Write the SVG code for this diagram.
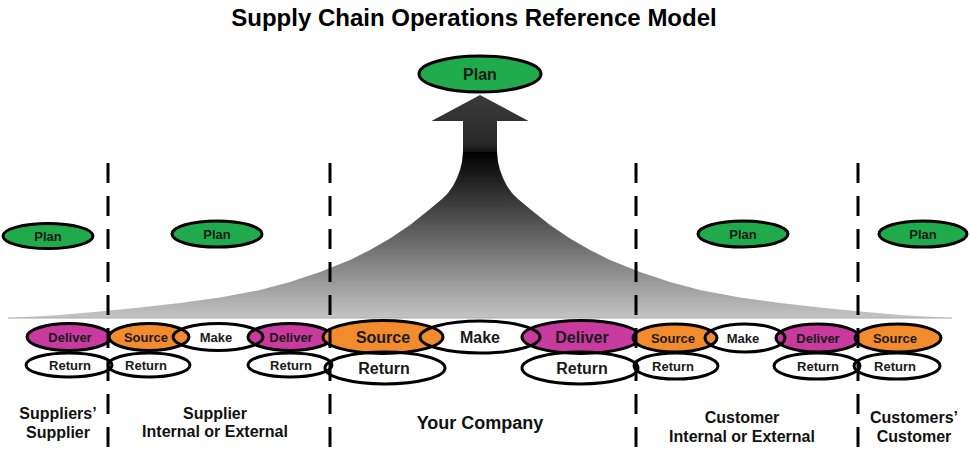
<svg xmlns="http://www.w3.org/2000/svg" width="970" height="454" viewBox="0 0 970 454">
<defs>
<linearGradient id="fanGrad" gradientUnits="userSpaceOnUse" x1="0" y1="152" x2="0" y2="318">
<stop offset="0" stop-color="#000000"/>
<stop offset="1" stop-color="#c4c4c4"/>
</linearGradient>
<linearGradient id="arrowGrad" gradientUnits="userSpaceOnUse" x1="0" y1="95" x2="0" y2="152">
<stop offset="0" stop-color="#3a3a3a"/>
<stop offset="0.85" stop-color="#2a2a2a"/>
<stop offset="1" stop-color="#111111"/>
</linearGradient>
</defs>
<style>
.title{font-family:"Liberation Sans",Arial,sans-serif;font-weight:bold;font-size:24px;fill:#000;text-anchor:middle}
.lbl{font-family:"Liberation Sans",Arial,sans-serif;font-weight:bold;fill:#1a1a1a;text-anchor:middle}
.s{font-size:13px}
.b{font-size:16px}
.zone{font-family:"Liberation Sans",Arial,sans-serif;font-weight:bold;font-size:16px;fill:#111;text-anchor:middle}
.e{stroke:#000;stroke-width:3}
.plan{fill:#1fab4c}
.src{fill:#f28a2e}
.del{fill:#c93a9e}
.none{fill:none}
.sep{stroke:#000;stroke-width:3;stroke-dasharray:20 13;fill:none}
</style>
<text class="title" x="474" y="26">Supply Chain Operations Reference Model</text>

<g id="flow">
<path d="M463,152 L497,152 L498,162 L500,170 L503,178 L507,186 L512,193 L518,199 L524,204 L530,209 L550,225 L570,238.5 L590,250 L610,260 L640,272 L670,282 L700,290 L740,297.5 L780,303 L820,307.5 L860,311.5 L900,315 L952,318 L8,318 L60,315 L100,311.5 L140,307.5 L180,303 L220,297.5 L260,290 L290,282 L320,272 L350,260 L370,250 L390,238.5 L410,225 L430,209 L436,204 L442,199 L448,193 L453,186 L457,178 L460,170 L462,162 Z" fill="url(#fanGrad)"/>
<line x1="8" y1="318" x2="952" y2="318" stroke="#aaaaaa" stroke-width="1"/>
<polygon points="480,95 528.5,121 497,121 497,152 463,152 463,121 431.5,121" fill="url(#arrowGrad)"/>
</g>

<g id="plan-top"><ellipse class="e plan" cx="480" cy="74" rx="61" ry="18"/><text class="lbl b" x="480" y="79.5">Plan</text></g>
<g id="plan-1"><ellipse class="e plan" cx="48" cy="236" rx="45" ry="12.5"/><text class="lbl s" x="48" y="240.5">Plan</text></g>
<g id="plan-2"><ellipse class="e plan" cx="217" cy="234" rx="45" ry="13"/><text class="lbl s" x="217" y="238.5">Plan</text></g>
<g id="plan-4"><ellipse class="e plan" cx="743" cy="234" rx="45" ry="13"/><text class="lbl s" x="743" y="238.5">Plan</text></g>
<g id="plan-5"><ellipse class="e plan" cx="923" cy="234" rx="44" ry="13"/><text class="lbl s" x="923" y="238.5">Plan</text></g>

<g id="ss-deliver"><ellipse class="e del" cx="69" cy="337" rx="42" ry="13.5"/><text class="lbl s" x="70" y="341.5">Deliver</text></g>
<g id="sup-source"><ellipse class="e src" cx="149" cy="337" rx="40" ry="13.5"/><text class="lbl s" x="146" y="341.5">Source</text></g>
<g id="sup-deliver"><ellipse class="e del" cx="290" cy="337" rx="42" ry="13.5"/><text class="lbl s" x="291" y="341.5">Deliver</text></g>
<g id="yc-source"><ellipse class="e src" cx="383" cy="337" rx="60" ry="16.5"/><text class="lbl b" x="383" y="342.5">Source</text></g>
<g id="yc-deliver"><ellipse class="e del" cx="581" cy="337" rx="59" ry="16.5"/><text class="lbl b" x="582" y="342.5">Deliver</text></g>
<g id="cus-source"><ellipse class="e src" cx="675" cy="338" rx="42" ry="14"/><text class="lbl s" x="673" y="342.5">Source</text></g>
<g id="cus-deliver"><ellipse class="e del" cx="818" cy="338" rx="42" ry="14"/><text class="lbl s" x="818" y="342.5">Deliver</text></g>
<g id="cc-source"><ellipse class="e src" cx="898" cy="338" rx="43" ry="14"/><text class="lbl s" x="895" y="342.5">Source</text></g>

<g id="sup-make"><ellipse class="e none" cx="218" cy="337" rx="45" ry="13.5"/><text class="lbl s" x="216" y="341.5">Make</text></g>
<g id="yc-make"><ellipse class="e none" cx="480" cy="337" rx="60" ry="16"/><text class="lbl b" x="480" y="342.5">Make</text></g>
<g id="cus-make"><ellipse class="e none" cx="745" cy="338" rx="40" ry="14"/><text class="lbl s" x="743" y="342.5">Make</text></g>

<g id="ss-return"><ellipse class="e none" cx="69" cy="365" rx="43" ry="12"/><text class="lbl s" x="70" y="369.5">Return</text></g>
<g id="sup-return-1"><ellipse class="e none" cx="149" cy="365" rx="41" ry="12"/><text class="lbl s" x="146" y="369.5">Return</text></g>
<g id="sup-return-2"><ellipse class="e none" cx="290" cy="365" rx="42" ry="12"/><text class="lbl s" x="291" y="369.5">Return</text></g>
<g id="yc-return-1"><ellipse class="e none" cx="385" cy="368" rx="60" ry="16"/><text class="lbl b" x="384" y="373.5">Return</text></g>
<g id="yc-return-2"><ellipse class="e none" cx="580" cy="368" rx="58" ry="16"/><text class="lbl b" x="582" y="373.5">Return</text></g>
<g id="cus-return-1"><ellipse class="e none" cx="676" cy="366" rx="42" ry="13"/><text class="lbl s" x="673" y="370.5">Return</text></g>
<g id="cus-return-2"><ellipse class="e none" cx="817" cy="366" rx="43" ry="13"/><text class="lbl s" x="818" y="370.5">Return</text></g>
<g id="cc-return"><ellipse class="e none" cx="897" cy="366" rx="43" ry="13"/><text class="lbl s" x="895" y="370.5">Return</text></g>

<g id="separators">
<line class="sep" x1="108" y1="163" x2="108" y2="454"/>
<line class="sep" x1="330" y1="163" x2="330" y2="454"/>
<line class="sep" x1="636" y1="163" x2="636" y2="454"/>
<line class="sep" x1="858" y1="163" x2="858" y2="454"/>
</g>

<g id="zone-ss"><text class="zone" x="58" y="419">Suppliers’</text><text class="zone" x="58" y="438">Supplier</text></g>
<g id="zone-sup"><text class="zone" x="215" y="419">Supplier</text><text class="zone" x="215" y="437">Internal or External</text></g>
<g id="zone-yc"><text class="zone" x="480" y="429" style="font-size:18px">Your Company</text></g>
<g id="zone-cus"><text class="zone" x="742" y="423">Customer</text><text class="zone" x="742" y="442">Internal or External</text></g>
<g id="zone-cc"><text class="zone" x="914" y="423">Customers’</text><text class="zone" x="914" y="442">Customer</text></g>
</svg>
